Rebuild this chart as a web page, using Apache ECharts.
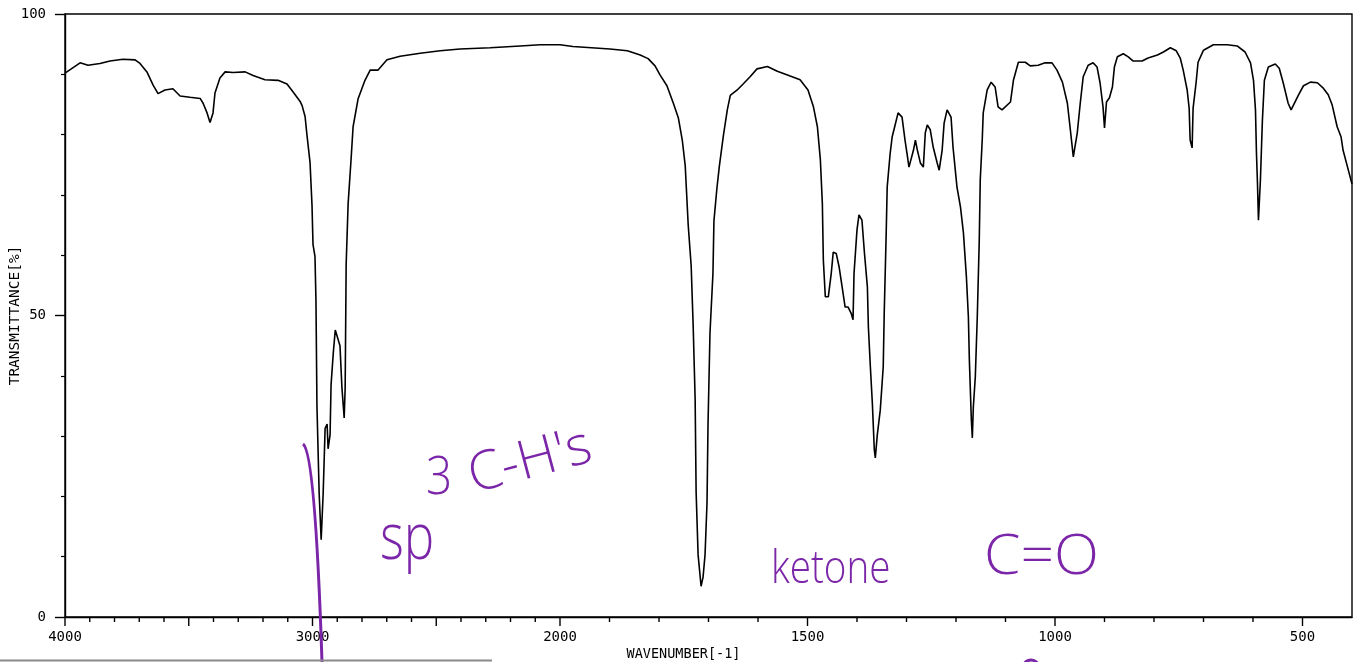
<!DOCTYPE html>
<html>
<head>
<meta charset="utf-8">
<script src="https://cdn.jsdelivr.net/npm/echarts@6/dist/echarts.min.js"></script>
<style>
html,body{margin:0;padding:0;background:#fff;}
#chart{width:1356px;height:662px;}
</style>
</head>
<body>
<div id="chart"></div>
<script>
// IR spectrum values (wavenumber in cm-1, transmittance in %)
const wavenumbers = [
  4000,3939,3907,3859,3818,3766,3717,3697,3669,3644,
  3624,3596,3564,3535,3495,3454,3442,3426,3414,3402,
  3394,3374,3353,3321,3272,3240,3192,3139,3103,3079,
  3050,3042,3030,3022,3010,3002,2998,2990,2986,2982,
  2973,2965,2957,2949,2941,2937,2929,2925,2916,2908,
  2900,2889,2881,2872,2868,2864,2856,2844,2836,2816,
  2788,2767,2735,2699,2646,2565,2484,2404,2282,2161,
  2080,2000,1974,1899,1864,1838,1822,1808,1798,1784,
  1771,1761,1753,1747,1741,1735,1731,1727,1725,1721,
  1715,1711,1707,1703,1701,1697,1691,1689,1683,1678,
  1670,1662,1656,1642,1630,1616,1602,1581,1561,1535,
  1515,1499,1488,1480,1474,1470,1468,1464,1458,1452,
  1448,1442,1436,1430,1424,1418,1412,1408,1406,1400,
  1396,1390,1385,1379,1377,1373,1369,1365,1363,1359,
  1353,1347,1345,1341,1339,1333,1329,1323,1317,1309,
  1303,1299,1295,1286,1282,1278,1272,1266,1262,1258,
  1252,1246,1238,1234,1228,1224,1218,1210,1206,1198,
  1191,1185,1179,1175,1173,1169,1167,1165,1161,1157,
  1153,1151,1147,1145,1137,1129,1121,1115,1107,1090,
  1084,1074,1060,1050,1034,1020,1006,996,985,975,
  969,963,959,955,949,943,933,923,915,909,
  903,900,896,890,884,880,874,862,852,842,
  824,812,793,781,767,755,747,741,733,729,
  727,723,721,715,711,700,680,652,632,616,
  605,599,595,593,591,589,585,581,577,569,
  555,547,539,529,523,519,508,498,484,470,
  458,448,440,430,422,418,409,400
];
const transmittance = [
  90.2,91.9,91.5,91.8,92.2,92.5,92.4,91.8,90.4,88.2,
  86.8,87.4,87.6,86.4,86.2,86.0,85.2,83.6,82.0,83.6,
  86.9,89.4,90.4,90.3,90.4,89.8,89.1,89.0,88.4,87.1,
  85.5,84.8,83.0,79.8,75.4,68.3,61.8,59.8,52.5,35.0,
  20.4,12.8,20.4,31.3,32.0,27.9,30.2,38.5,43.8,47.6,
  47.6,45.0,38.0,33.0,38.0,58.5,68.6,76.0,81.3,85.9,
  89.0,90.7,90.7,92.4,93.0,93.5,93.9,94.2,94.4,94.7,
  94.9,94.9,94.6,94.2,93.9,93.2,92.6,91.4,89.9,88.1,
  85.2,82.8,79.1,74.8,65.0,58.2,48.4,36.2,20.7,10.3,
  5.1,6.6,10.3,18.9,31.8,47.1,57.0,65.7,71.1,74.8,
  79.8,84.1,86.5,87.4,88.4,89.6,90.9,91.3,90.5,89.7,
  89.1,87.4,84.6,81.3,75.8,68.6,59.2,53.1,53.1,57.0,
  60.5,60.3,58.0,54.7,51.4,51.4,50.4,49.3,57.0,64.2,
  66.7,65.8,60.4,54.7,48.1,41.5,35.5,27.7,26.4,30.2,
  34.3,41.5,50.4,63.7,71.3,76.9,79.6,81.6,83.6,82.9,
  79.1,76.9,74.6,77.4,79.1,77.4,75.3,74.6,80.3,81.6,
  80.8,77.9,75.3,74.1,77.4,81.9,84.1,82.9,77.9,71.3,
  68.0,63.7,56.4,49.8,42.6,32.7,29.7,34.8,39.8,49.8,
  62.5,72.5,79.1,83.6,87.4,88.7,87.9,84.6,84.1,85.4,
  89.0,92.0,92.0,91.4,91.5,91.9,91.9,90.7,88.7,85.2,
  80.8,76.3,76.1,80.3,85.2,89.6,91.5,91.9,91.2,88.6,
  84.6,81.1,85.4,86.1,87.9,91.2,92.9,93.4,92.9,92.2,
  92.2,92.7,93.2,93.7,94.4,93.9,92.7,90.7,87.4,84.4,
  79.1,77.8,84.4,88.6,92.0,94.0,94.9,94.9,94.7,93.7,
  91.9,89.0,84.1,76.9,72.0,65.8,72.5,82.4,89.0,91.2,
  91.7,91.0,88.6,85.2,84.1,84.4,86.6,88.1,88.7,88.6,
  87.7,86.6,84.9,81.3,79.6,77.4,74.6,71.8
];
const xMajorTicks = [4000,3500,3000,2500,2000,1500,1000,500];
const xMinorTicks = [3900,3800,3700,3600,3400,3300,3200,3100,2900,2800,2700,2600,
  2400,2300,2200,2100,1900,1800,1700,1600,1400,1300,1200,1100,900,800,700,600];
const yTickValues = [0,50,100];

// The spectrometer chart uses half scale above 2000 cm-1 and full scale below.
function toAxis(w){ return w >= 2000 ? (4000 - w) / 2 : 1000 + (2000 - w); }
function fromAxis(t){ return t <= 1000 ? 4000 - 2 * t : 3000 - t; }

const lineData = wavenumbers.map((w, i) => [toAxis(w), transmittance[i]]);
const tickData = xMajorTicks.map(w => [toAxis(w), 1]).concat(xMinorTicks.map(w => [toAxis(w), 0]));

const purple = '#7b25a8';
const monoFont = 'DejaVu Sans Mono';
const handFont = 'Open Sans';

const chart = echarts.init(document.getElementById('chart'), null, {renderer:'canvas'});
chart.setOption({
  animation: false,
  backgroundColor: '#fff',
  grid: {left: 65, right: 4, top: 14, bottom: 45, show: true, borderColor: '#000', borderWidth: 1.4,
    backgroundColor: 'transparent', containLabel: false, outerBoundsMode: 'none'},
  xAxis: {
    type: 'value', min: 0, max: 2600, interval: 500,
    axisLine: {show: true, lineStyle: {color: '#000', width: 1.4}},
    axisTick: {show: false},
    splitLine: {show: false},
    axisLabel: {color: '#000', fontFamily: monoFont, fontSize: 14, margin: 13,
      showMaxLabel: false, formatter: v => String(fromAxis(v))},
    name: 'WAVENUMBER[-1]', nameLocation: 'middle', nameGap: 30, nameMoveOverlap: false,
    nameTextStyle: {color: '#000', fontFamily: monoFont, fontSize: 13.5, padding: [0, 50, 0, 0]}
  },
  yAxis: {
    type: 'value', min: 0, max: 100, interval: 50,
    axisLine: {show: true, lineStyle: {color: '#000', width: 1.4}},
    axisTick: {show: true, length: 10, lineStyle: {color: '#000', width: 1.4}},
    minorTick: {show: true, splitNumber: 5, length: 4, lineStyle: {color: '#000', width: 1.2}},
    splitLine: {show: false},
    axisLabel: {color: '#000', fontFamily: monoFont, fontSize: 14, margin: 19,
      formatter: v => yTickValues.indexOf(v) >= 0 ? String(v) : ''},
    name: 'TRANSMITTANCE[%]', nameLocation: 'middle', nameGap: 50, nameRotate: 90, nameMoveOverlap: false,
    nameTextStyle: {color: '#000', fontFamily: monoFont, fontSize: 14.5, verticalAlign: 'middle'}
  },
  series: [
    {
      type: 'line', data: lineData, showSymbol: false, symbol: 'none',
      lineStyle: {color: '#000', width: 1.6}, z: 3, silent: true
    },
    {
      type: 'custom', data: tickData, clip: false, silent: true, z: 4,
      renderItem: function(params, api){
        const p = api.coord([api.value(0), 0]);
        const len = api.value(1) ? 9 : 5;
        return {type: 'line', shape: {x1: p[0], y1: p[1], x2: p[0], y2: p[1] + len},
          style: {stroke: '#000', lineWidth: 1.4}};
      }
    }
  ],
  graphic: [
    // handwritten annotations
    {type: 'bezierCurve', shape: {x1: 303, y1: 444, cpx1: 312, cpy1: 450, cpx2: 318, cpy2: 540, x2: 322, y2: 662},
      style: {stroke: purple, lineWidth: 3, fill: null}, z: 10},
    {type: 'text', x: 380, y: 573, style: {text: 'sp', fill: purple, font: '300 64px "' + handFont + '"', textVerticalAlign: 'bottom'}, scaleX: 0.8, z: 10},
    {type: 'text', x: 426, y: 452, style: {text: '3', fill: purple, font: '300 54px "' + handFont + '"', textVerticalAlign: 'top'}, scaleX: 0.85, z: 10},
    {type: 'text', x: 530, y: 462, rotation: 0.26, style: {text: "C-H's", fill: purple, font: '300 54px "' + handFont + '"', textAlign: 'center', textVerticalAlign: 'middle'}, z: 10},
    {type: 'text', x: 771, y: 593, style: {text: 'ketone', fill: purple, font: '300 46px "' + handFont + '"', textVerticalAlign: 'bottom'}, scaleX: 0.84, z: 10},
    {type: 'text', x: 984, y: 586, style: {text: 'C=O', fill: purple, font: '300 56px "' + handFont + '"', textVerticalAlign: 'bottom'}, scaleX: 1.05, z: 10},
    {type: 'arc', shape: {cx: 1031, cy: 668, r: 8, startAngle: Math.PI * 1.1, endAngle: Math.PI * 1.9}, style: {stroke: purple, lineWidth: 3, fill: null}, z: 10},
    // screenshot edge line
    {type: 'line', shape: {x1: 0, y1: 660.5, x2: 492, y2: 660.5}, style: {stroke: '#8a8a8a', lineWidth: 2}, z: 10}
  ]
});
</script>
</body>
</html>
